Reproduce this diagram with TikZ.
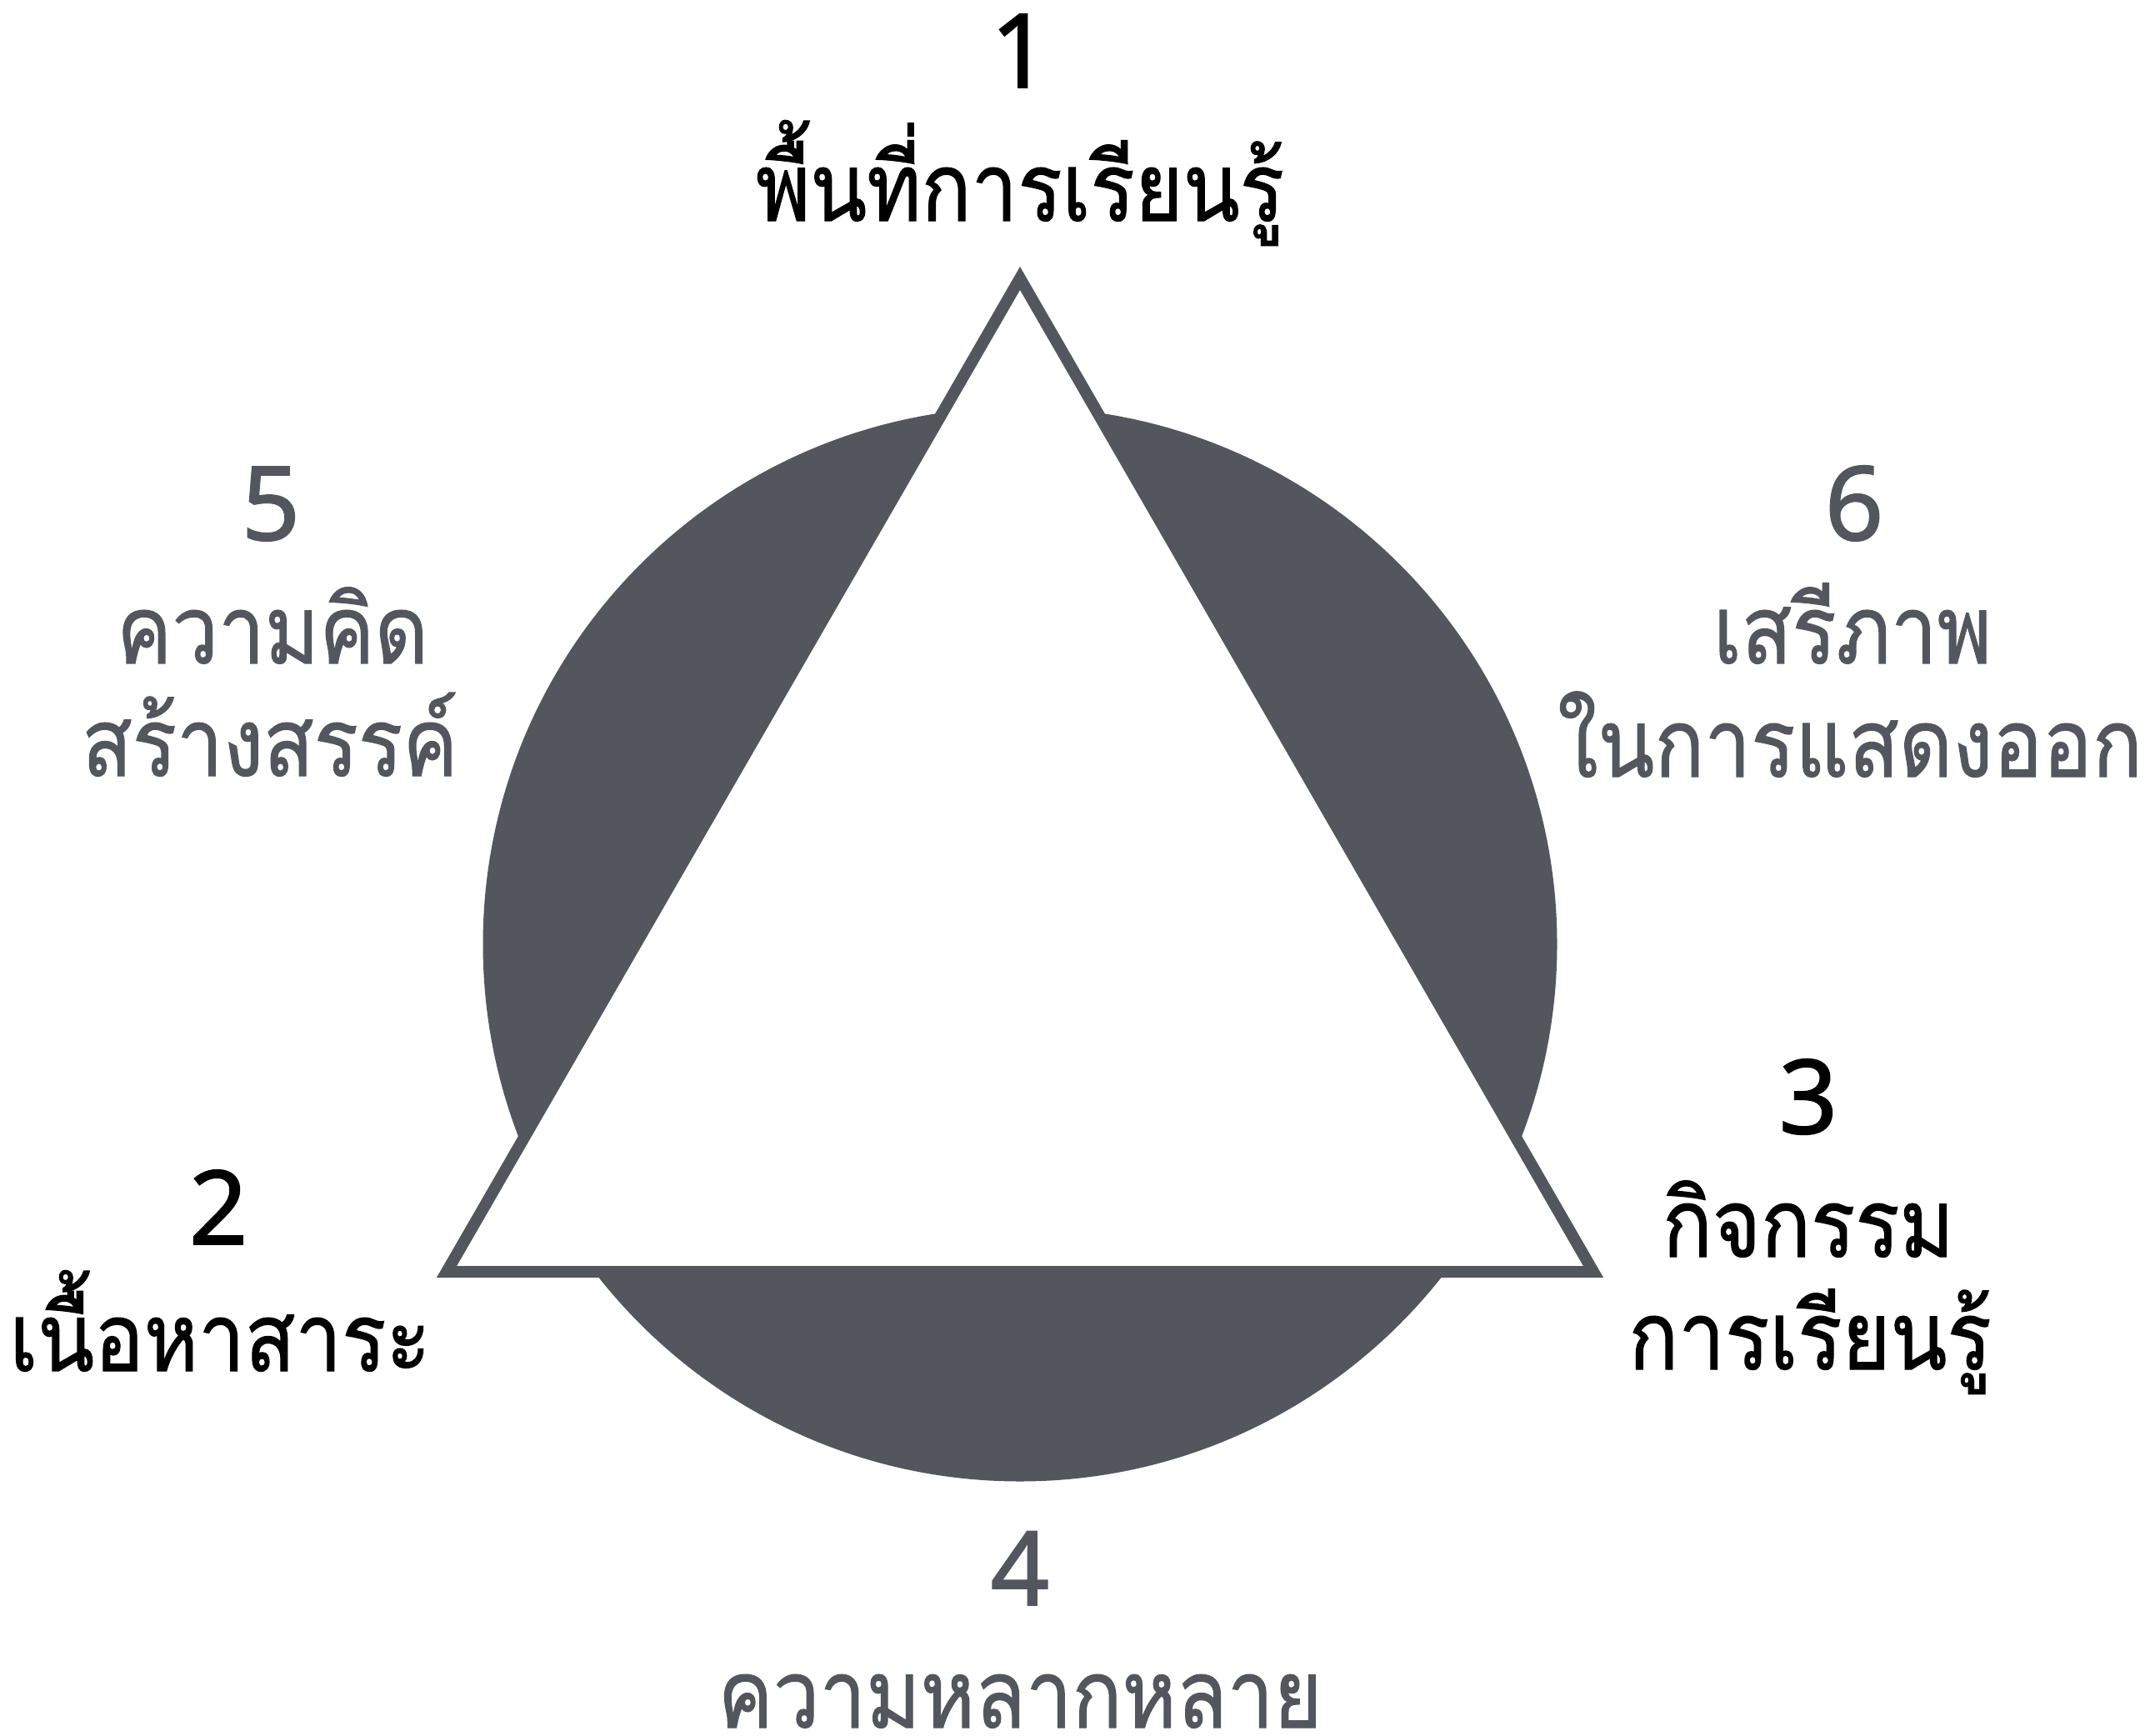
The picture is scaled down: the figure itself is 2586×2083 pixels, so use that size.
\documentclass[tikz,border=0pt]{standalone}
\usepackage{fontspec}
\setmainfont{Noto Sans}
\newfontfamily\numfont[FakeBold=1.5]{Noto Sans}
\newfontfamily\thaifont[Script=Thai,FakeStretch=0.87,FakeBold=1]{Loma}
\definecolor{darkg}{HTML}{53575D}
\begin{document}
\begin{tikzpicture}[x=0.25pt,y=-0.25pt,
  numtxt/.style={anchor=base,inner sep=0pt,font=\fontsize{30.8pt}{34pt}\selectfont\numfont},
  lbltxt/.style={anchor=base,inner sep=0pt,font=\fontsize{28.5pt}{32pt}\selectfont\thaifont},
  blk/.style={text=black},
  gry/.style={text=darkg}]
\useasboundingbox (0,0) rectangle (2586,2083);
% circle behind
\fill[darkg] (1224,1133) circle[radius=161.125pt];
% triangle
\coordinate (A) at (1224,334);
\coordinate (B) at (536,1526);
\coordinate (C) at (1912,1526);
\draw[darkg,line width=3.5pt,fill=white,miter limit=10] (A) -- (B) -- (C) -- cycle;
% labels
\node[numtxt,blk] (n1) at (1224,105) {1};
\node[lbltxt,blk] (t1) at (1224,265) {พื้นที่การเรียนรู้};
\node[numtxt,blk] (n2) at (262,1493) {2};
\node[lbltxt,blk] (t2) at (264,1645) {เนื้อหาสาระ};
\node[numtxt,blk] (n3) at (2170,1360) {3};
\node[lbltxt,blk] (t3a) at (2170,1508) {กิจกรรม};
\node[lbltxt,blk] (t3b) at (2172,1643) {การเรียนรู้};
\node[numtxt,gry] (n4) at (1224,1926) {4};
\node[lbltxt,gry,text depth=0pt] (t4) at (1224,2073) {ความหลากหลาย};
\node[numtxt,gry] (n5) at (325,648) {5};
\node[lbltxt,gry] (t5a) at (327,796) {ความคิด};
\node[lbltxt,gry] (t5b) at (324,931) {สร้างสรรค์};
\node[numtxt,gry] (n6) at (2225,648) {6};
\node[lbltxt,gry] (t6a) at (2223,796) {เสรีภาพ};
\node[lbltxt,gry] (t6b) at (2220,932) {ในการแสดงออก};
\end{tikzpicture}
\end{document}
